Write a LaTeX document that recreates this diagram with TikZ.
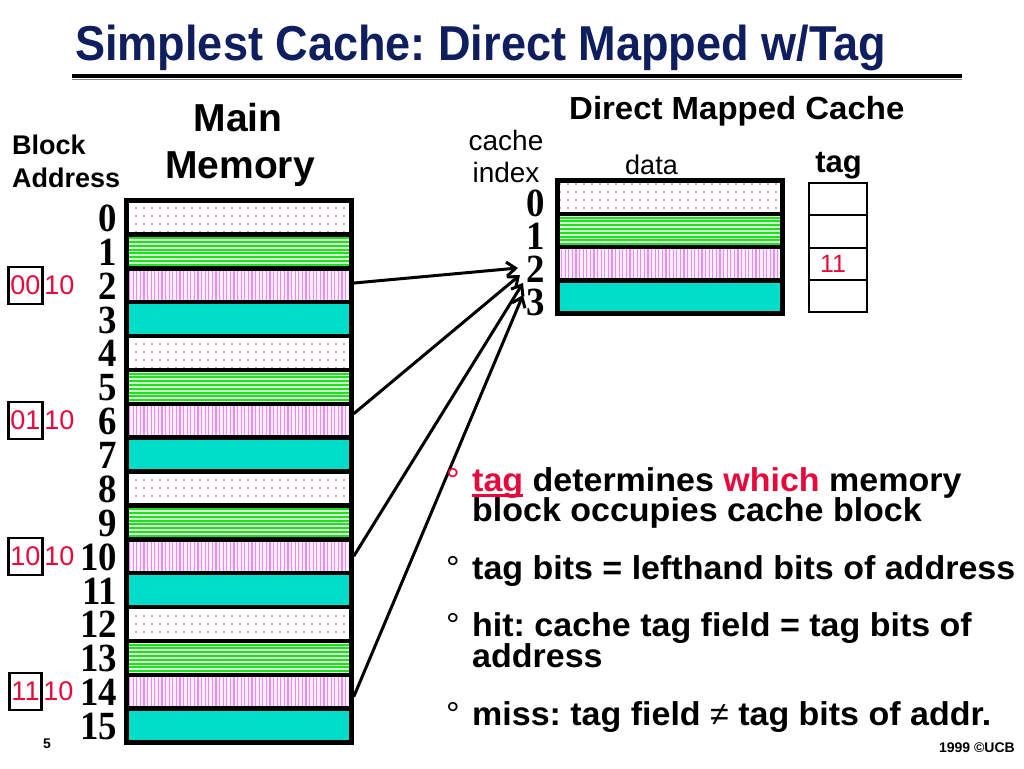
\documentclass[tikz,border=0pt]{standalone}
\usepackage{fontspec}
\setmainfont{Liberation Sans}
\newfontfamily\titlefont[FakeStretch=0.92]{Liberation Sans}
\newfontfamily\bodyfont[FakeStretch=1.03]{Liberation Sans}
\newfontfamily\numfont[FakeStretch=0.92]{Liberation Serif}
\usetikzlibrary{arrows.meta}
\usetikzlibrary{patterns.meta}
\usetikzlibrary{positioning}
\frenchspacing

\definecolor{titleblue}{RGB}{14,30,95}
\definecolor{addrred}{RGB}{230,10,60}
\definecolor{cachecyan}{RGB}{0,221,200}
\definecolor{stripegreen}{RGB}{30,225,30}
\definecolor{palegreen}{RGB}{215,250,215}
\definecolor{stripeviolet}{RGB}{232,140,245}
\definecolor{paleviolet}{RGB}{252,236,252}
\definecolor{dotred}{RGB}{230,70,100}

\newcommand\tagul[1]{\setbox0\hbox{#1}\rlap{\rule[-6pt]{\wd0}{2.6pt}}\box0}

\tikzset{
  memcell/.style={draw, line width=4.5pt, minimum width=225pt, minimum height=33.875pt, inner sep=0pt},
  dotcell/.style={preaction={fill=white}, pattern={Dots[distance=8pt, radius=0.9pt]}, pattern color=dotred},
  greencell/.style={fill=palegreen, path picture={
      \foreach \j in {1,...,8}
        \draw[stripegreen, line width=2pt]
          ([yshift=-\j*3.8pt]path picture bounding box.north west) -- ([yshift=-\j*3.8pt]path picture bounding box.north east);}},
  violetcell/.style={preaction={fill=paleviolet}, pattern={Lines[angle=90, distance=3.6pt, line width=1.2pt]}, pattern color=stripeviolet},
  cyancell/.style={fill=cachecyan},
  memfill/.code={\ifcase#1\tikzset{dotcell}\or\tikzset{greencell}\or\tikzset{violetcell}\or\tikzset{cyancell}\fi},
  tagcell/.style={draw, line width=2pt, minimum width=58pt, minimum height=32.25pt, inner sep=0pt},
  numlbl/.style={inner sep=0pt, anchor=base east, font=\numfont\bfseries\fontsize{40}{40}\selectfont},
  headtxt/.style={inner sep=0pt, anchor=base, font=\bfseries\fontsize{39}{44}\selectfont},
  smallhead/.style={inner sep=0pt, anchor=base west, font=\bfseries\fontsize{27}{30}\selectfont},
  labeltxt/.style={inner sep=0pt, anchor=base, font=\fontsize{27}{30}\selectfont},
  addrtxt/.style={inner sep=0pt, text=addrred, font=\fontsize{27}{28}\selectfont},
  addrbox/.style={draw, line width=2.2pt, text=addrred, font=\fontsize{27}{28}\selectfont, inner xsep=2pt, inner ysep=0pt, minimum height=37pt},
  bodytxt/.style={inner sep=0pt, anchor=base west, font=\bodyfont\bfseries\fontsize{33}{30}\selectfont},
  bulletmk/.style={inner sep=0pt, anchor=base west, font=\bodyfont\fontsize{33}{30}\selectfont},
  arrowline/.style={line width=3pt, -{Straight Barb[length=9pt, width=14pt]}},
}

\begin{document}
\begin{tikzpicture}[x=1pt, y=-1pt]
  \useasboundingbox (0,0) rectangle (1024,768);

  % title
  \node[inner sep=0pt, anchor=base west, text=titleblue, font=\titlefont\bfseries\fontsize{49}{55}\selectfont] (title) at (75,60) {Simplest Cache: Direct Mapped w/Tag};
  \draw[line width=4pt] (72,75.5) -- (962,75.5);
  \draw[line width=1.2pt, gray] (72,79.5) -- (962,79.5);

  % main memory
  \node[headtxt] (mainl) at (238,131.5) {Main};
  \node[headtxt] (memoryl) at (240,178) {Memory};
  \node[smallhead] (blockl) at (12,154) {Block};
  \node[smallhead] (addressl) at (12,187) {Address};
  \foreach \i in {0,...,15} {
    \pgfmathsetmacro\y{200.5+33.875*(\i+0.5)}
    \pgfmathtruncatemacro\k{mod(\i,4)}
    \node[memcell, memfill=\k] (m\i) at (239,\y) {};
    \node[numlbl] (n\i) at (117,\y+14) {\i};
  }
  \foreach \r/\hi/\lo in {2/00/10, 6/01/10, 10/10/10, 14/11/10} {
    \node[addrbox] (ab\r) at (25.5,{200.5+33.875*(\r+0.5)}) {\hi};
    \node[addrtxt, right=0.5pt of ab\r] (al\r) {\lo};
  }

  % cache
  \node[inner sep=0pt, anchor=base west, font=\bodyfont\bfseries\fontsize{32}{34}\selectfont] (cachel) at (569,119) {Direct Mapped Cache};
  \node[labeltxt, font=\fontsize{28}{30}\selectfont] (cidx1) at (506,150) {cache};
  \node[labeltxt, font=\fontsize{28}{30}\selectfont] (cidx2) at (506,182) {index};
  \node[labeltxt] (datal) at (651.5,174) {data};
  \node[labeltxt, font=\bfseries\fontsize{31}{34}\selectfont] (tagl) at (838.5,172) {tag};
  \foreach \i in {0,...,3} {
    \node[memcell, minimum height=33.25pt, memfill=\i] (c\i) at (670,{180.5+33.25*(\i+0.5)}) {};
    \node[numlbl] (ci\i) at (545,216+33*\i) {\i};
    \node[tagcell] (t\i) at (838,{183+32.25*(\i+0.5)}) {};
  }
  \node[addrtxt, font=\fontsize{25}{26}\selectfont] (tagval) at ([xshift=-5pt]t2.center) {11};

  % arrows
  \coordinate (tipa) at (518,268);
  \coordinate (tipb) at (520,275);
  \coordinate (tipc) at (523,283);
  \coordinate (tipd) at (523,295);
  \draw[arrowline] ([yshift=2pt]m2.east) -- (tipa);
  \draw[arrowline] ([yshift=7pt]m6.east) -- (tipb);
  \draw[arrowline] (m10.east) -- (tipc);
  \draw[arrowline] ([yshift=-5pt]m14.east) -- (tipd);

  % notes
  \node[bulletmk, text=addrred] (d1) at (446,491) {°};
  \node[bodytxt] (b1) at (472,491) {{\color{addrred}\tagul{tag}} determines {\color{addrred}which} memory};
  \node[bodytxt] (b1x) at (472,521) {block occupies cache block};
  \node[bulletmk] (d2) at (446,579) {°};
  \node[bodytxt] (b2) at (472,579) {tag bits = lefthand bits of address};
  \node[bulletmk] (d3) at (446,636) {°};
  \node[bodytxt] (b3) at (472,636) {hit: cache tag field = tag bits of};
  \node[bodytxt] (b3x) at (472,667) {address};
  \node[bulletmk] (d4) at (446,725) {°};
  \node[bodytxt] (b4) at (472,725) {miss: tag field {\mdseries ≠} tag bits of addr.};

  \node[inner sep=0pt, anchor=base west, font=\bfseries\fontsize{14}{16}\selectfont] (pageno) at (43,748) {5};
  \node[inner sep=0pt, anchor=base east, font=\bfseries\fontsize{14}{16}\selectfont] (copyr) at (1015,752) {1999 ©UCB};
\end{tikzpicture}
\end{document}
